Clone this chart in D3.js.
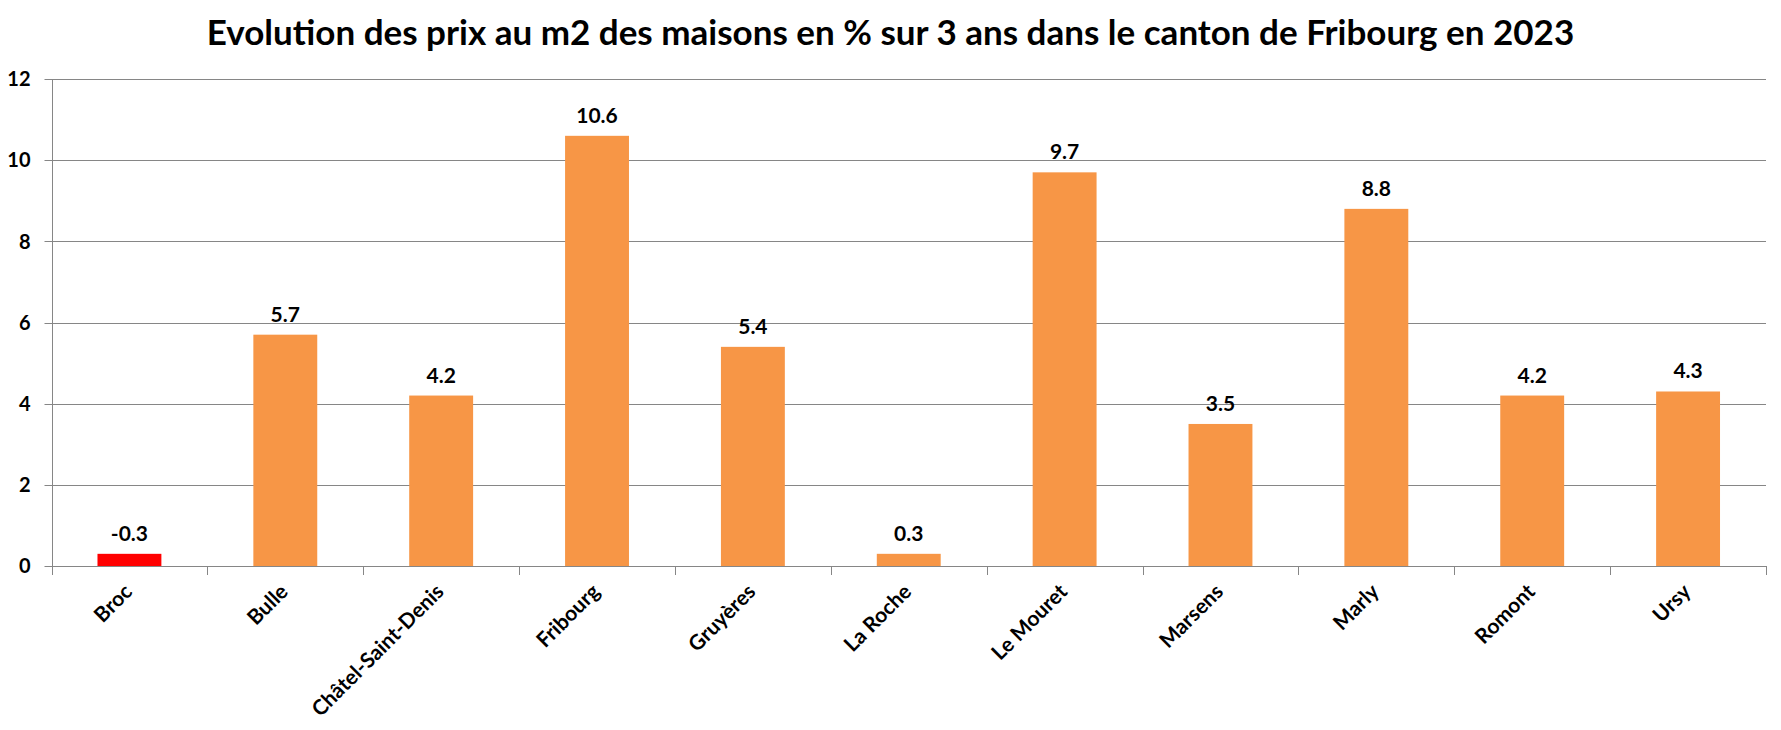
<!DOCTYPE html>
<html>
<head>
<meta charset="utf-8">
<script src="https://cdn.jsdelivr.net/npm/d3@7"></script>
<style>
  html, body { margin: 0; padding: 0; background: #fff; }
  svg { display: block; }
  text { font-family: Lato, "Open Sans", sans-serif; font-weight: bold; fill: #000; }
</style>
</head>
<body>
<svg id="chart" width="1781" height="730"></svg>
<script>
const titleText = "Evolution des prix au m2 des maisons en % sur 3 ans dans le canton de Fribourg en 2023";
const categories = ["Broc", "Bulle", "Châtel-Saint-Denis", "Fribourg", "Gruyères", "La Roche", "Le Mouret", "Marsens", "Marly", "Romont", "Ursy"];
const values = [-0.3, 5.7, 4.2, 10.6, 5.4, 0.3, 9.7, 3.5, 8.8, 4.2, 4.3];
const yTicks = [0, 2, 4, 6, 8, 10, 12];

const W = 1781, H = 730;
const margin = { left: 51.5, right: 15, top: 79, bottom: 164 };
const svg = d3.select("#chart");

const x = d3.scaleBand()
  .domain(categories)
  .range([margin.left, W - margin.right])
  .paddingInner(0.59)
  .paddingOuter(0.295);

const y = d3.scaleLinear()
  .domain([0, 12])
  .range([H - margin.bottom, margin.top]);

const grid = "#868686";

// gridlines
svg.append("g")
  .selectAll("line")
  .data(yTicks)
  .join("line")
  .attr("x1", margin.left - 7)
  .attr("x2", W - margin.right)
  .attr("y1", d => Math.round(y(d)) + 0.5)
  .attr("y2", d => Math.round(y(d)) + 0.5)
  .attr("stroke", grid)
  .attr("stroke-width", 1);

// y axis line
svg.append("line")
  .attr("x1", Math.round(margin.left) + 0.5)
  .attr("x2", Math.round(margin.left) + 0.5)
  .attr("y1", margin.top)
  .attr("y2", y(0) + 9)
  .attr("stroke", grid);

// x tick marks at band boundaries
const step = x.step();
const boundaries = d3.range(categories.length + 1).map(i => margin.left + i * step);
svg.append("g")
  .selectAll("line")
  .data(boundaries)
  .join("line")
  .attr("x1", d => Math.round(d) + 0.5)
  .attr("x2", d => Math.round(d) + 0.5)
  .attr("y1", y(0))
  .attr("y2", y(0) + 9)
  .attr("stroke", grid);

// y tick labels
svg.append("g")
  .selectAll("text")
  .data(yTicks)
  .join("text")
  .attr("x", margin.left - 21)
  .attr("y", d => y(d))
  .attr("dy", "0.36em")
  .attr("text-anchor", "end")
  .attr("font-size", 20)
  .text(d => d);

// bars
svg.append("g")
  .selectAll("rect")
  .data(values)
  .join("rect")
  .attr("x", (d, i) => x(categories[i]))
  .attr("width", x.bandwidth())
  .attr("y", d => y(Math.abs(d)))
  .attr("height", d => y(0) - y(Math.abs(d)))
  .attr("fill", d => d < 0 ? "#FF0000" : "#F79646");

// value labels
svg.append("g")
  .selectAll("text")
  .data(values)
  .join("text")
  .attr("x", (d, i) => x(categories[i]) + x.bandwidth() / 2)
  .attr("y", d => y(Math.abs(d)) - 13)
  .attr("text-anchor", "middle")
  .attr("font-size", 21)
  .text(d => d.toFixed(1));

// x labels rotated
svg.append("g")
  .selectAll("text")
  .data(categories)
  .join("text")
  .attr("text-anchor", "end")
  .attr("font-size", 21)
  .attr("transform", d => `translate(${x(d) + x.bandwidth() / 2 + 4},${y(0) + 27}) rotate(-45)`)
  .text(d => d);

// title
svg.append("text")
  .attr("x", W / 2)
  .attr("y", 45)
  .attr("text-anchor", "middle")
  .attr("font-size", 35)
  .text(titleText);
</script>
</body>
</html>
